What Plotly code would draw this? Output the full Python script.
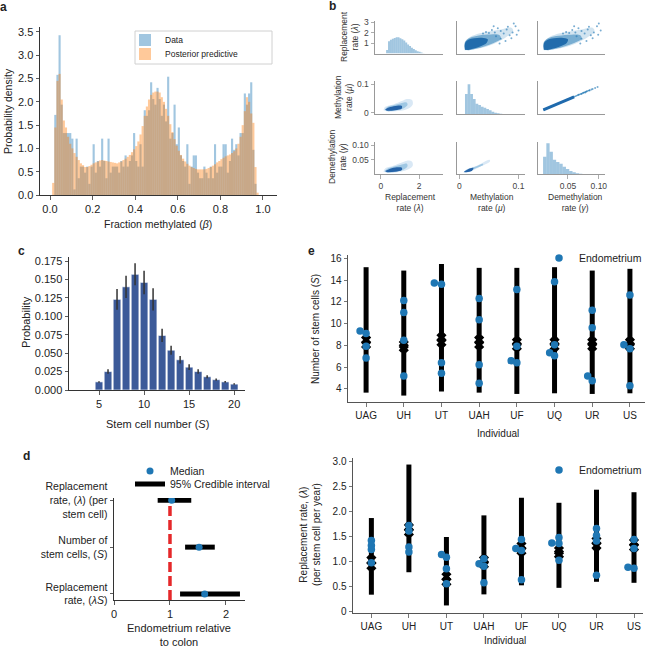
import plotly.graph_objects as go

W, H = 654, 647
FONT = "Liberation Sans, Arial, Helvetica, sans-serif"
BLUE = "#1f77b4"

# ======================= DATA =======================
# ---- panel a: probability density per 0.01-wide bin of fraction methylated (bins start at 0.00)
a_data_density = [0, 0, 1.72, 2.58, 3.43, 1.94, 1.33, 1.33, 1.33, 1.33,
                  1.21, 0.12, 1.21, 0.36, 0.61, 0.61, 0.48, 0.61, 0.24, 0.61,
                  1.09, 0.48, 0.73, 0.61, 1.21, 0.73, 0.36, 1.21, 0.48, 0.61,
                  0.61, 0.61, 0.48, 0.73, 0.61, 0.85, 0.61, 0.73, 0.85, 1.33,
                  0.73, 0.61, 1.09, 0.61, 1.82, 1.70, 1.82, 2.42, 2.06, 1.94,
                  2.30, 2.06, 1.70, 1.94, 1.58, 2.54, 1.21, 1.33, 1.94, 1.09,
                  1.45, 0.85, 0.73, 0.61, 1.09, 0.24, 0.61, 0.85, 0.85, 0.48,
                  0.36, 0.36, 0.61, 0.48, 0.36, 0.61, 0.36, 1.09, 0.48, 0.61,
                  0.61, 1.09, 1.09, 0.48, 0.73, 1.21, 0.97, 1.09, 0.85, 1.33,
                  1.33, 2.18, 1.94, 2.18, 2.42, 0.97, 0.24, 0, 0, 0]
a_post_density = [0.0, 0.26, 1.45, 2.45, 2.6, 2.05, 1.6, 1.45, 1.25, 1.1,
                  1.0, 0.9, 0.82, 0.75, 0.68, 0.64, 0.6, 0.6, 0.62, 0.65,
                  0.68, 0.7, 0.72, 0.74, 0.75, 0.74, 0.73, 0.72, 0.71, 0.7,
                  0.69, 0.68, 0.7, 0.72, 0.75, 0.78, 0.82, 0.86, 0.92, 0.98,
                  1.05, 1.15, 1.3, 1.48, 1.7, 1.9, 2.05, 2.15, 2.2, 2.22,
                  2.22, 2.2, 2.1, 2.0, 1.85, 1.7, 1.52, 1.35, 1.2, 1.06,
                  0.95, 0.86, 0.78, 0.72, 0.67, 0.63, 0.6, 0.58, 0.56, 0.55,
                  0.55, 0.55, 0.55, 0.56, 0.58, 0.6, 0.63, 0.66, 0.7, 0.73,
                  0.77, 0.8, 0.83, 0.85, 0.87, 0.9, 0.94, 1.0, 1.1, 1.25,
                  1.5, 1.8, 2.1, 2.0, 1.75, 1.55, 0.6, 0.05, 0, 0]
a_xticks = [0, 0.2, 0.4, 0.6, 0.8, 1.0]
a_yticks = [0, 0.5, 1.0, 1.5, 2.0, 2.5, 3.0, 3.5]

# ---- panel b: pair plot of posterior samples
# diagonal histograms: lambda one read on its own row axis; mu, gamma as fraction of panel height
b_lambda_hist = [0.34, 1.18, 1.3, 1.4, 1.49, 1.55, 1.55, 1.46, 1.36, 1.24,
                 1.05, 0.87, 0.71, 0.56, 0.43, 0.31, 0.22, 0.16, 0.09, 0.03]
b_mu_hist = [0.61, 0.9, 0.61, 0.46, 0.32, 0.28, 0.23, 0.2, 0.16, 0.12, 0.08, 0.05, 0.03, 0.015]
b_gamma_hist = [0.54, 0.95, 0.69, 0.45, 0.38, 0.32, 0.23, 0.16, 0.1, 0.06, 0.03, 0.015]

# lambda (y) vs mu (x)
b_lm_halo = [(0.009, 0.3), (0.009, 1.0), (0.015, 1.45), (0.03, 1.85), (0.05, 2.1), (0.07, 2.3),
             (0.088, 2.45), (0.091, 2.1), (0.08, 1.6), (0.065, 1.1), (0.05, 0.75), (0.03, 0.45), (0.015, 0.3)]
b_lm_mid = [(0.0095, 0.35), (0.0095, 1.1), (0.018, 1.5), (0.033, 1.72), (0.053, 1.82), (0.068, 1.75),
            (0.07, 1.4), (0.058, 1.0), (0.043, 0.7), (0.028, 0.45), (0.016, 0.32)]
b_lm_core = [(0.0095, 0.35), (0.0095, 0.95), (0.015, 1.3), (0.025, 1.45), (0.038, 1.5), (0.048, 1.35),
             (0.046, 1.0), (0.036, 0.7), (0.023, 0.45), (0.015, 0.33)]
b_lm_sparse = [(0.06, 2.0), (0.07, 2.15), (0.075, 1.9), (0.08, 2.3), (0.085, 1.75), (0.09, 2.0),
               (0.095, 2.6), (0.065, 2.4), (0.055, 2.25), (0.045, 2.05), (0.088, 1.45), (0.078, 1.2),
               (0.07, 1.4), (0.092, 2.85), (0.05, 1.95), (0.1, 2.2), (0.082, 2.55), (0.04, 1.9),
               (0.062, 1.65), (0.068, 0.95), (0.097, 1.8), (0.058, 2.6)]
# lambda (y) vs gamma (x)
b_lg_halo = [(0.011, 0.3), (0.011, 1.0), (0.017, 1.45), (0.032, 1.85), (0.052, 2.1), (0.072, 2.3),
             (0.09, 2.45), (0.093, 2.1), (0.083, 1.6), (0.068, 1.1), (0.053, 0.75), (0.033, 0.45), (0.017, 0.3)]
b_lg_mid = [(0.011, 0.35), (0.011, 1.1), (0.02, 1.5), (0.035, 1.7), (0.055, 1.8), (0.07, 1.75),
            (0.072, 1.4), (0.06, 1.0), (0.045, 0.7), (0.03, 0.45), (0.018, 0.32)]
b_lg_core = [(0.011, 0.35), (0.011, 0.95), (0.017, 1.3), (0.027, 1.45), (0.04, 1.5), (0.05, 1.35),
             (0.048, 1.0), (0.038, 0.7), (0.025, 0.45), (0.017, 0.33)]
b_lg_sparse = [(0.062, 2.0), (0.072, 2.15), (0.077, 1.9), (0.082, 2.3), (0.087, 1.75), (0.092, 2.0),
               (0.097, 2.6), (0.067, 2.4), (0.057, 2.25), (0.047, 2.05), (0.09, 1.45), (0.08, 1.2),
               (0.072, 1.4), (0.1, 2.85), (0.052, 1.95), (0.103, 2.2), (0.084, 2.55), (0.042, 1.9),
               (0.064, 1.65), (0.07, 0.95), (0.099, 1.8), (0.06, 2.6)]
# mu (y) vs lambda (x) density
b_ml_outer = [(0.14, 0.0095), (0.23, 0.021), (0.66, 0.0295), (1.1, 0.041), (1.37, 0.048), (1.63, 0.0447),
              (1.67, 0.0295), (1.45, 0.0155), (1.02, 0.007), (0.4, 0.0035)]
b_ml_mid = [(0.2, 0.01), (0.35, 0.02), (0.7, 0.027), (1.1, 0.034), (1.35, 0.036), (1.4, 0.028),
            (1.2, 0.016), (0.8, 0.009), (0.4, 0.006)]
b_ml_core = [(0.23, 0.012), (0.49, 0.02), (0.84, 0.0247), (1.1, 0.0236), (1.1, 0.0155), (0.75, 0.0095), (0.32, 0.007)]
# gamma (y) vs lambda (x) density
b_gl_outer = [(0.14, 0.011), (0.23, 0.022), (0.66, 0.031), (1.1, 0.042), (1.37, 0.0478), (1.63, 0.0445),
              (1.67, 0.031), (1.45, 0.019), (1.02, 0.011), (0.4, 0.0067)]
b_gl_mid = [(0.2, 0.012), (0.35, 0.021), (0.7, 0.028), (1.1, 0.035), (1.35, 0.038), (1.4, 0.03),
            (1.2, 0.018), (0.8, 0.011), (0.4, 0.008)]
b_gl_core = [(0.23, 0.0133), (0.49, 0.021), (0.84, 0.0256), (1.1, 0.0244), (1.1, 0.0167), (0.75, 0.011), (0.32, 0.009)]
# gamma (y) vs mu (x) density
b_gm_outer = [(0.0068, 0.009), (0.0125, 0.019), (0.0294, 0.031), (0.0509, 0.051), (0.052, 0.0455),
              (0.0322, 0.0245), (0.0153, 0.009)]
b_gm_mid = [(0.007, 0.0095), (0.013, 0.018), (0.028, 0.028), (0.04, 0.037), (0.04, 0.033), (0.026, 0.021), (0.013, 0.009)]
b_gm_core = [(0.0073, 0.0097), (0.0142, 0.0187), (0.0237, 0.0233), (0.021, 0.0133), (0.011, 0.009)]
# mu (y) vs gamma (x) samples: dense ridge ends and scattered points
b_mg_dense = [(0.0101, 0.01), (0.06, 0.056)]
b_mg_thin = [(0.0101, 0.01), (0.086, 0.08)]
b_mg_sparse = [(0.075, 0.07), (0.08, 0.074), (0.085, 0.078), (0.09, 0.083), (0.098, 0.09),
               (0.072, 0.066), (0.088, 0.081), (0.078, 0.071), (0.094, 0.087), (0.067, 0.063)]
b_xtick_vals = [[0, 2], [0, 0.1], [0.05, 0.10]]
b_xtick_text = [["0", "2"], ["0", "0.1"], ["0.05", "0.10"]]
b_ytick_vals = [[1, 2, 3], [0, 0.1], [0.05, 0.10]]
b_ytick_text = [["1", "2", "3"], ["0", "0.1"], ["0.05", "0.10"]]
b_names = ["Replacement<br>rate (<i>λ</i>)", "Methylation<br>rate (<i>μ</i>)", "Demethylation<br>rate (<i>γ</i>)"]

# ---- panel c
c_S = [5, 6, 7, 8, 9, 10, 11, 12, 13, 14, 15, 16, 17, 18, 19, 20]
c_prob = [0.011, 0.025, 0.123, 0.140, 0.157, 0.146, 0.123, 0.074, 0.054, 0.041, 0.031, 0.025, 0.018, 0.014, 0.011, 0.008]
c_err = [0.001, 0.003, 0.014, 0.015, 0.015, 0.016, 0.015, 0.009, 0.006, 0.005, 0.004, 0.003, 0.002, 0.0015, 0.0012, 0.001]
c_yticks = [0, 0.025, 0.05, 0.075, 0.1, 0.125, 0.15, 0.175]
c_xticks = [5, 10, 15, 20]

# ---- panel d (top to bottom)
d_labels = ["Replacement<br>rate, (<i>λ</i>) (per<br>stem cell)",
            "Number of<br>stem cells, (<i>S</i>)",
            "Replacement<br>rate, (<i>λS</i>)"]
d_pos = [2, 1, 0]
d_median = [1.03, 1.52, 1.62]
d_lo = [0.78, 1.27, 1.18]
d_hi = [1.38, 1.80, 2.25]
d_ref = 1.0
d_xticks = [0, 1, 2]

# ---- panel e
individuals = ["UAG", "UH", "UT", "UAH", "UF", "UQ", "UR", "US"]
# stem cell number
eS_lo = [3.66, 3.39, 3.76, 3.66, 3.54, 3.60, 3.54, 3.60]
eS_hi = [15.18, 14.87, 15.48, 15.12, 15.12, 15.18, 14.87, 15.03]
eS_mark_hi = [8.48, 8.08, 8.69, 8.48, 8.29, 8.29, 8.29, 8.29]
eS_mark_lo = [8.08, 7.78, 8.29, 8.08, 7.93, 7.93, 7.93, 7.93]
eS_dot_ind = [0, 0, 0, 0, 1, 1, 1, 1, 2, 2, 2, 2, 3, 3, 3, 3, 4, 4, 4, 4, 5, 5, 5, 5, 6, 6, 6, 6, 7, 7, 7, 7]
eS_dot_val = [9.33, 9.09, 7.93, 6.83, 12.13, 11.03, 8.48, 5.19, 13.72, 13.62, 6.40, 5.43,
              12.31, 10.36, 6.22, 4.52, 13.14, 7.93, 6.59, 6.40, 13.84, 8.05, 7.32, 7.04,
              11.22, 9.63, 5.19, 4.76, 12.62, 8.05, 7.68, 4.30]
eS_dot_shift = [-0.16, 0, 0, 0, 0, 0, 0, 0, -0.19, 0, 0, 0, 0, 0, 0, 0,
                0, 0, -0.15, 0, 0, 0, -0.13, 0, 0, 0, -0.12, 0, 0, -0.16, 0, 0]
eS_yticks = [4, 6, 8, 10, 12, 14, 16]
# replacement rate
eL_lo = [0.344, 0.79, 0.13, 0.35, 0.53, 0.48, 0.60, 0.58]
eL_hi = [1.867, 2.93, 1.49, 1.92, 2.27, 2.17, 2.43, 2.38]
eL_mark_hi = [1.03, 1.68, 0.70, 1.03, 1.31, 1.22, 1.41, 1.38]
eL_mark_lo = [0.92, 1.59, 0.60, 0.95, 1.22, 1.15, 1.32, 1.29]
eL_dot_ind = [0, 0, 0, 0, 1, 1, 1, 1, 2, 2, 2, 2, 3, 3, 3, 3, 4, 4, 4, 4, 5, 5, 5, 5, 6, 6, 6, 6, 7, 7, 7, 7]
eL_dot_val = [1.42, 1.32, 1.24, 0.98, 1.72, 1.61, 1.29, 1.19, 1.14, 1.09, 0.86, 0.56,
              0.96, 1.06, 0.91, 0.58, 1.44, 1.26, 1.22, 0.64, 1.37, 1.48, 1.36, 1.03,
              1.66, 1.52, 1.41, 0.73, 1.44, 1.26, 0.89, 0.87]
eL_dot_shift = [0, 0, 0, 0, 0, 0, 0, 0, -0.13, 0, 0, 0, -0.13, 0, 0, 0,
                0, -0.15, 0, 0, -0.19, 0, 0, 0, 0, 0, 0, 0, 0, 0, -0.16, 0]
eL_yticks = [0, 0.5, 1.0, 1.5, 2.0, 2.5, 3.0]
eL_yticktext = ["0", "0.5", "1.0", "1.5", "2.0", "2.5", "3.0"]


# ======================= HELPERS =======================
def fx(p):
    return p / W


def fy(p):
    return 1 - p / H


layout = dict(width=W, height=H, margin=dict(l=0, r=0, t=0, b=0, autoexpand=False),
              plot_bgcolor="white", paper_bgcolor="white", hovermode=False,
              font=dict(family=FONT, size=10, color="#222"), barmode="overlay",
              showlegend=True)
annotations = []
shapes = []
traces = []
_n = [0]


def new_axes(xdom, ydom, xrange, yrange, xkw=None, ykw=None, fs=10.5, lc="#333"):
    _n[0] += 1
    n = _n[0]
    sfx = "" if n == 1 else str(n)
    base = dict(showgrid=False, zeroline=False, showline=True, linewidth=1, linecolor=lc,
                ticks="outside", ticklen=3.5, tickwidth=0.8, tickcolor=lc, automargin=False,
                tickfont=dict(size=fs, color="#222", family=FONT), fixedrange=True)
    xa = dict(base, domain=[fx(xdom[0]), fx(xdom[1])], range=xrange, anchor="y" + sfx)
    ya = dict(base, domain=[fy(ydom[1]), fy(ydom[0])], range=yrange, anchor="x" + sfx)
    xa.update(xkw or {})
    ya.update(ykw or {})
    layout["xaxis" + sfx] = xa
    layout["yaxis" + sfx] = ya
    return "x" + sfx, "y" + sfx


def text(t, x, y, size=10.5, angle=0, bold=False, align="center", xanchor="center", yanchor="middle", color="#222"):
    annotations.append(dict(text=("<b>%s</b>" % t) if bold else t, x=fx(x), y=fy(y), xref="paper", yref="paper",
                            showarrow=False, textangle=angle, xanchor=xanchor, yanchor=yanchor, align=align,
                            font=dict(size=size, family=FONT, color=color)))


def legend_at(x, y, size):
    return dict(x=fx(x), y=fy(y), xanchor="left", yanchor="middle", bgcolor="rgba(0,0,0,0)",
                borderwidth=0, font=dict(size=size, family=FONT, color="#222"), itemwidth=30,
                tracegroupgap=0)


def poly(pts, xa, ya, color):
    traces.append(go.Scatter(x=[p[0] for p in pts], y=[p[1] for p in pts], fill="toself", mode="lines",
                             line=dict(width=0, shape="spline"), fillcolor=color, xaxis=xa, yaxis=ya,
                             showlegend=False, hoverinfo="skip"))


# ======================= PANEL A =======================
xa, ya = new_axes((40, 277), (27, 195), [-0.047, 1.066], [0, 3.607],
                  xkw=dict(tickvals=a_xticks, tickformat=".1f"),
                  ykw=dict(tickvals=a_yticks, tickformat=".1f"), fs=11)
traces.append(go.Bar(x0=0.005, dx=0.01, y=a_data_density, width=0.01, name="Data",
                     marker=dict(color="rgba(31,119,180,0.42)", line=dict(width=0)),
                     xaxis=xa, yaxis=ya, legend="legend"))
traces.append(go.Bar(x0=0.005, dx=0.01, y=a_post_density, width=0.01, name="Posterior predictive",
                     marker=dict(color="rgba(255,127,14,0.42)", line=dict(width=0)),
                     xaxis=xa, yaxis=ya, legend="legend5"))
text("Probability density", 8, 111, size=10.5, angle=-90)
text("Fraction methylated (<i>β</i>)", 158, 224, size=10.5)
text("a", 3, 7, size=12, bold=True)
shapes.append(dict(type="rect", xref="paper", yref="paper", x0=fx(135), x1=fx(272), y0=fy(64), y1=fy(31),
                   line=dict(color="#d0d0d0", width=1), fillcolor="rgba(255,255,255,0.8)", layer="above"))
layout["legend"] = legend_at(125, 40, 8.5)
layout["legend5"] = legend_at(125, 54, 8.5)

# ======================= PANEL B =======================
cols_px = [(375, 443), (457, 525), (538, 605)]
rows_px = [(21, 53.5), (81, 114.3), (141.7, 174.3)]
col_ranges = [[-0.3, 3.25], [-0.004, 0.111], [0.0015, 0.11]]
row_ranges = [[0, 3.1], [-0.005, 0.111], [0.0023, 0.111]]
cell = {}
for r in range(3):
    for c in range(3):
        tf = dict(size=8.5, color="#444", family=FONT)
        xkw = dict(tickfont=tf)
        ykw = dict(tickfont=tf)
        if r == 2:
            xkw.update(tickvals=b_xtick_vals[c], ticktext=b_xtick_text[c])
        else:
            xkw.update(ticks="", showticklabels=False)
        if c == 0:
            ykw.update(tickvals=b_ytick_vals[r], ticktext=b_ytick_text[r])
        else:
            ykw.update(ticks="", showticklabels=False)
        yr = [0, 1.0] if (r == c and r > 0) else row_ranges[r]
        cell[(r, c)] = new_axes(cols_px[c], rows_px[r], col_ranges[c], yr, xkw, ykw, lc="#999")

HIST = "rgba(31,119,180,0.42)"
x00, y00 = cell[(0, 0)]
traces.append(go.Bar(x0=0.33, dx=0.1, width=0.1, y=b_lambda_hist, marker=dict(color=HIST, line=dict(width=0)),
                     xaxis=x00, yaxis=y00, showlegend=False))
x11, y11 = cell[(1, 1)]
traces.append(go.Bar(x0=0.01175, dx=0.0045, width=0.0045, y=b_mu_hist, marker=dict(color=HIST, line=dict(width=0)),
                     xaxis=x11, yaxis=y11, showlegend=False))
x22, y22 = cell[(2, 2)]
traces.append(go.Bar(x0=0.01235, dx=0.0053, width=0.0053, y=b_gamma_hist, marker=dict(color=HIST, line=dict(width=0)),
                     xaxis=x22, yaxis=y22, showlegend=False))

for (halo, mid, core, sparse), c in [((b_lm_halo, b_lm_mid, b_lm_core, b_lm_sparse), 1),
                                     ((b_lg_halo, b_lg_mid, b_lg_core, b_lg_sparse), 2)]:
    xr, yr_ = cell[(0, c)]
    poly(halo, xr, yr_, "rgba(31,119,180,0.2)")
    poly(mid, xr, yr_, "rgba(31,119,180,0.5)")
    poly(core, xr, yr_, "rgba(28,104,170,0.95)")
    traces.append(go.Scatter(x=[p[0] for p in sparse], y=[p[1] for p in sparse], mode="markers",
                             marker=dict(size=2, color=BLUE, opacity=0.6), xaxis=xr, yaxis=yr_,
                             showlegend=False, hoverinfo="skip"))
for (outer, mid, core), rc in [((b_ml_outer, b_ml_mid, b_ml_core), (1, 0)),
                               ((b_gl_outer, b_gl_mid, b_gl_core), (2, 0)),
                               ((b_gm_outer, b_gm_mid, b_gm_core), (2, 1))]:
    xr, yr_ = cell[rc]
    poly(outer, xr, yr_, "#d9e8f5")
    poly(mid, xr, yr_, "#9fc7e3")
    poly(core, xr, yr_, "#2563a8")
x12, y12 = cell[(1, 2)]
traces.append(go.Scatter(x=[p[0] for p in b_mg_thin], y=[p[1] for p in b_mg_thin], mode="lines",
                         line=dict(color="rgba(31,119,180,0.7)", width=1.5), xaxis=x12, yaxis=y12,
                         showlegend=False, hoverinfo="skip"))
traces.append(go.Scatter(x=[p[0] for p in b_mg_dense], y=[p[1] for p in b_mg_dense], mode="lines",
                         line=dict(color="#1f6aad", width=3), xaxis=x12, yaxis=y12,
                         showlegend=False, hoverinfo="skip"))
traces.append(go.Scatter(x=[p[0] for p in b_mg_sparse], y=[p[1] for p in b_mg_sparse], mode="markers",
                         marker=dict(size=2, color=BLUE, opacity=0.6), xaxis=x12, yaxis=y12,
                         showlegend=False, hoverinfo="skip"))

row_lab_x = [349, 343, 338]
row_lab_y = [37, 97, 157]
for r in range(3):
    text(b_names[r], row_lab_x[r], row_lab_y[r], size=8.5, angle=-90, color="#333")
col_lab_x = [410, 492, 575]
for c in range(3):
    text(b_names[c], col_lab_x[c], 202, size=8.5, color="#333")
text("b", 332, 6, size=12, bold=True)

# ======================= PANEL C =======================
xc, yc = new_axes((69, 245), (257, 390), [1.67, 21.2], [0, 0.1805],
                  xkw=dict(tickvals=c_xticks), ykw=dict(tickvals=c_yticks, tickformat=".3f"), fs=11)
traces.append(go.Bar(x=c_S, y=c_prob, width=0.85,
                     marker=dict(color="#3c5a99", line=dict(color="white", width=0.6)),
                     error_y=dict(type="data", array=c_err, color="#333", thickness=1.5, width=0),
                     xaxis=xc, yaxis=yc, showlegend=False))
text("Probability", 26, 322, size=11, angle=-90)
text("Stem cell number (<i>S</i>)", 157, 424, size=11)
text("c", 21.5, 250.5, size=12, bold=True)

# ======================= PANEL D =======================
xd, yd = new_axes((114, 245), (498, 600), [0, 2.34], [-0.13, 2.05],
                  xkw=dict(tickvals=d_xticks, tickfont=dict(size=11, color="#222", family=FONT)),
                  ykw=dict(tickvals=d_pos, ticktext=d_labels, tickfont=dict(size=10.5, color="#222", family=FONT)))
shapes.append(dict(type="line", xref=xd, yref=yd + " domain", x0=d_ref, x1=d_ref, y0=0, y1=1,
                   line=dict(color="#e5282a", width=3.5, dash="10px,4px"), layer="below"))
ci_x, ci_y = [], []
for lo, hi, p in zip(d_lo, d_hi, d_pos):
    ci_x += [lo, hi, None]
    ci_y += [p, p, None]
traces.append(go.Scatter(x=ci_x, y=ci_y, mode="lines", line=dict(color="black", width=5),
                         name="95% Credible interval", xaxis=xd, yaxis=yd, legend="legend6"))
traces.append(go.Scatter(x=d_median, y=d_pos, mode="markers", marker=dict(color=BLUE, size=7),
                         name="Median", xaxis=xd, yaxis=yd, legend="legend2"))
text("Endometrium relative<br>to colon", 179, 635, size=11)
text("d", 26, 456, size=12, bold=True)
layout["legend2"] = legend_at(130, 471, 10.5)
layout["legend6"] = legend_at(130, 484, 10.5)


# ======================= PANEL E =======================
def e_panel(xdom, ydom, xr, yr, ykw, lo, hi, mhi, mlo, dind, dval, dshift, legname):
    xe, ye = new_axes(xdom, ydom, xr, yr,
                      xkw=dict(tickvals=list(range(len(individuals))), ticktext=individuals),
                      ykw=ykw, fs=10, lc="#555")
    lx, ly = [], []
    for i, (a, b) in enumerate(zip(lo, hi)):
        lx += [i, i, None]
        ly += [a, b, None]
    traces.append(go.Scatter(x=lx, y=ly, mode="lines", line=dict(color="black", width=5),
                             xaxis=xe, yaxis=ye, showlegend=False, hoverinfo="skip"))
    idx = list(range(len(individuals)))
    traces.append(go.Scatter(x=idx + idx, y=mhi + mlo, mode="markers",
                             marker=dict(symbol="x", size=9, color="black", line=dict(width=0)),
                             xaxis=xe, yaxis=ye, showlegend=False, hoverinfo="skip"))
    traces.append(go.Scatter(x=[i + s for i, s in zip(dind, dshift)], y=dval, mode="markers",
                             marker=dict(color=BLUE, size=7.5), name="Endometrium",
                             xaxis=xe, yaxis=ye, legend=legname))
    return xe, ye


e_panel((348, 645), (255, 402), [-0.48, 7.4], [2.8, 16.3], dict(tickvals=eS_yticks),
        eS_lo, eS_hi, eS_mark_hi, eS_mark_lo, eS_dot_ind, eS_dot_val, eS_dot_shift, "legend3")
text("Number of stem cells (<i>S</i>)", 315, 329, size=10, angle=-90)
text("Individual", 498, 433, size=10)
text("e", 311.5, 250.5, size=12, bold=True)
layout["legend3"] = legend_at(539, 258, 10.5)

e_panel((353, 643), (458, 613), [-0.49, 7.24], [-0.02, 3.06], dict(tickvals=eL_yticks, ticktext=eL_yticktext),
        eL_lo, eL_hi, eL_mark_hi, eL_mark_lo, eL_dot_ind, eL_dot_val, eL_dot_shift, "legend4")
text("Replacement rate, (<i>λ</i>)<br>(per stem cell per year)", 310, 535, size=10, angle=-90)
text("Individual", 505, 640, size=10)
layout["legend4"] = legend_at(539, 470, 10.5)

layout["annotations"] = annotations
layout["shapes"] = shapes
fig = go.Figure(data=traces, layout=layout)
fig.write_html("out.html", config={"displayModeBar": False, "staticPlot": True},
               post_script="document.body.style.margin='0px';document.body.style.padding='0px';")
